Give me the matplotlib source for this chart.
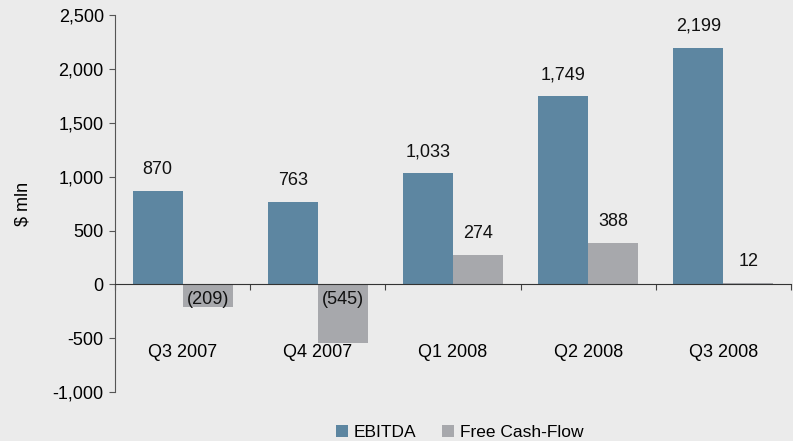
import numpy as np
import matplotlib
matplotlib.use('Agg')
import matplotlib.pyplot as plt

quarters = ['Q3 2007', 'Q4 2007', 'Q1 2008', 'Q2 2008', 'Q3 2008']
ebitda = [870, 763, 1033, 1749, 2199]
fcf = [-209, -545, 274, 388, 12]

plt.rcParams['font.family'] = ['Liberation Sans', 'DejaVu Sans']

blue = '#5d86a1'
grey = '#a7a8ac'
bg = '#ebebeb'
fs = 13

fig = plt.figure(figsize=(7.93, 4.41), dpi=100, facecolor=bg)
ax = fig.add_axes([0.145, 0.111, 0.8525, 0.854])
ax.set_facecolor(bg)

x = np.arange(len(quarters))
w = 0.37
b1 = ax.bar(x - w / 2, ebitda, w, color=blue, label='EBITDA')
b2 = ax.bar(x + w / 2, fcf, w, color=grey, label='Free Cash-Flow')

def fmt(v):
    return '({:,})'.format(-v) if v < 0 else '{:,}'.format(v)

for xs, vals in ((x - w / 2, ebitda), (x + w / 2, fcf)):
    for xi, v in zip(xs, vals):
        if v >= 0:
            ax.annotate(fmt(v), (xi, v), xytext=(0, 9.5), textcoords='offset points',
                        ha='center', va='bottom', fontsize=fs, color='#111111')
        else:
            ax.annotate(fmt(v), (xi, 0), xytext=(0, -11), textcoords='offset points',
                        ha='center', va='center', fontsize=fs, color='#111111')

ax.set_xlim(-0.5, len(quarters) - 0.5)
ax.set_ylim(-1000, 2500)
ax.set_yticks(np.arange(-1000, 2501, 500))
ax.set_yticklabels(['{:,}'.format(v) for v in range(-1000, 2501, 500)], fontsize=fs)
ax.set_ylabel('$ mln', fontsize=fs, labelpad=15)

ax.set_xticks(np.arange(-0.5, len(quarters), 1.0))
ax.set_xticklabels([])
ax.set_xticks(x, minor=True)
ax.set_xticklabels(quarters, minor=True)
ax.tick_params(axis='x', which='minor', length=0, pad=43, labelsize=fs)
ax.tick_params(axis='x', which='major', length=4, direction='out', color='#444444')
ax.tick_params(axis='y', length=4, direction='out', color='#555555', pad=4)

for s in ('top', 'right'):
    ax.spines[s].set_visible(False)
ax.spines['bottom'].set_position(('data', 0))
ax.spines['bottom'].set_color('#333333')
ax.spines['left'].set_color('#555555')

ax.legend(loc='lower center', bbox_to_anchor=(0.51, -0.145), ncol=2, frameon=False,
          fontsize=12.5, handlelength=0.7, handleheight=0.7, handletextpad=0.3,
          columnspacing=1.5, borderaxespad=0)

fig.savefig('out.png', dpi=100, facecolor=bg)
